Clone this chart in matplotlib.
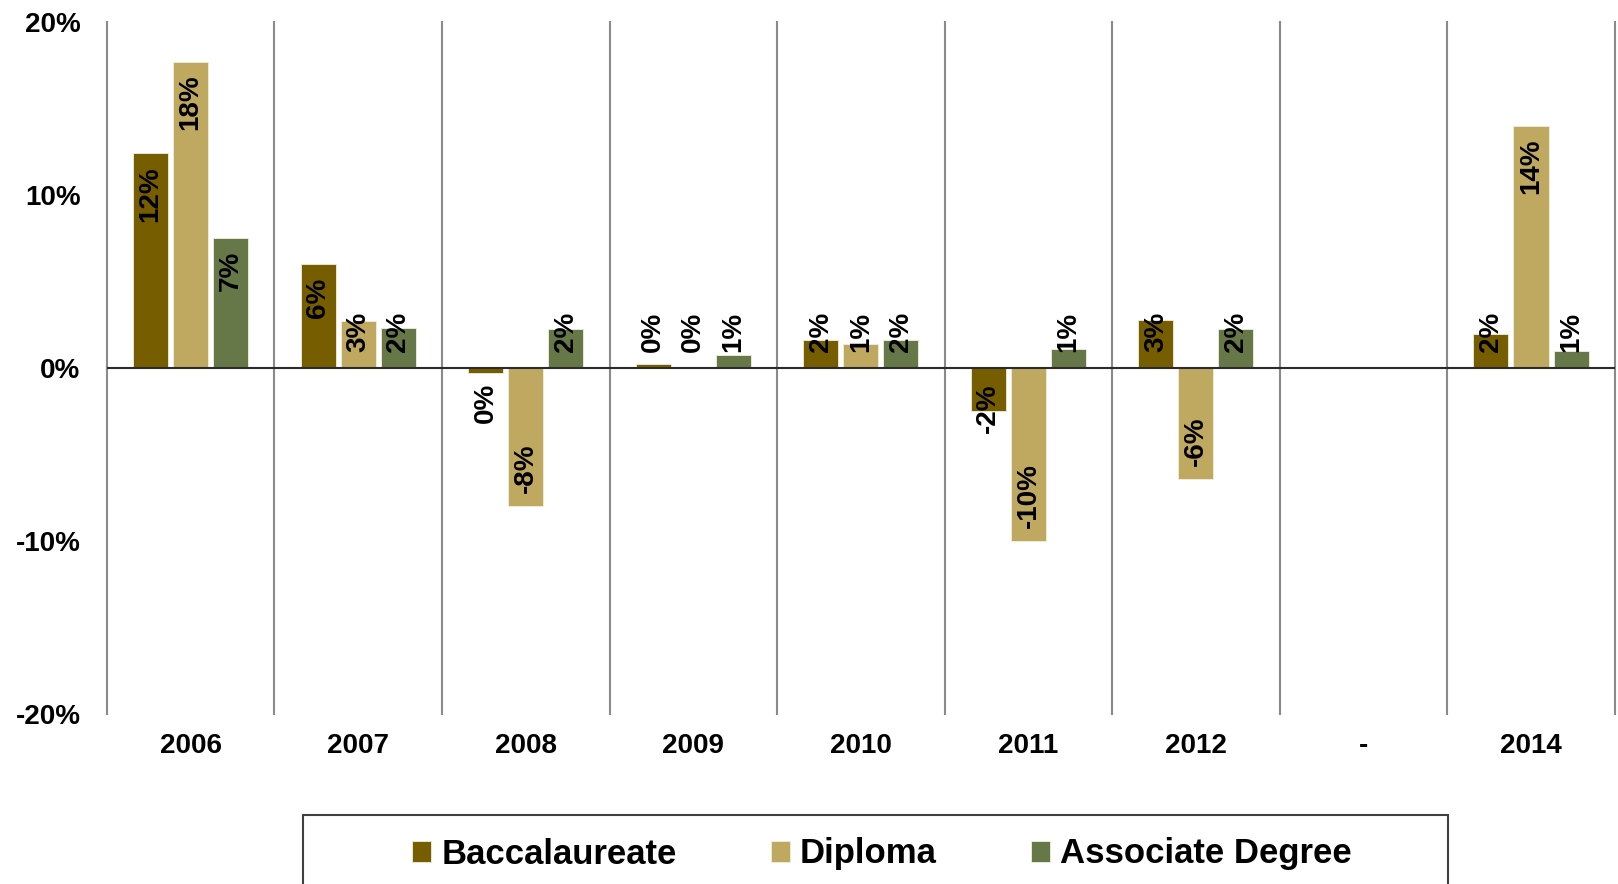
import numpy as np
import matplotlib
matplotlib.use("Agg")
import matplotlib.pyplot as plt
from matplotlib.patches import Rectangle
from matplotlib.textpath import TextPath
from matplotlib.font_manager import FontProperties

plt.rcParams['font.family'] = ['Liberation Sans', 'DejaVu Sans']
plt.rcParams['font.weight'] = 'bold'

# du lieu doc tu hinh
years = ['2006', '2007', '2008', '2009', '2010', '2011', '2012', '-', '2014']
bacc = [12.4, 6.0, -0.3, 0.25, 1.6, -2.5, 2.8, np.nan, 1.95]
diploma = [17.7, 2.7, -8.0, 0.0, 1.4, -10.0, -6.4, np.nan, 14.0]
assoc = [7.5, 2.3, 2.25, 0.73, 1.6, 1.1, 2.25, np.nan, 0.98]
labels_bacc = ['12%', '6%', '0%', '0%', '2%', '-2%', '3%', '', '2%']
labels_dip = ['18%', '3%', '-8%', '0%', '1%', '-10%', '-6%', '', '14%']
labels_assoc = ['7%', '2%', '2%', '1%', '2%', '1%', '2%', '', '1%']

series = ['Baccalaureate', 'Diploma', 'Associate Degree']
colors = ['#765E00', '#BFA960', '#667748']

DPI = 100
fig = plt.figure(figsize=(16.18, 8.84), dpi=DPI)
ax = fig.add_axes([0.0661, 0.1923, 0.9319, 0.7828])
ax.set_xlim(0, 9)
ax.set_ylim(-20, 20)

x = np.arange(len(years)) + 0.5
step = 0.239
width = 0.209
px_per_unit = 0.7828 * 8.84 * DPI / 40.0   # pixel cho 1%
pt = 72.0 / DPI
label_font = 20
prop = FontProperties(family='Liberation Sans', weight='bold')

def text_len_px(s):
    # do dai chu (pixel) khi xoay 90 do
    return TextPath((0, 0), s, size=label_font, prop=prop).get_extents().width / pt

handles = []
for k, (vals, labs) in enumerate([(bacc, labels_bacc), (diploma, labels_dip), (assoc, labels_assoc)]):
    xs = x + (k - 1) * step
    b = ax.bar(xs, vals, width, color=colors[k], edgecolor='#f2eedf', linewidth=0.6,
               label=series[k], zorder=3)
    handles.append(b)
    for xi, v, s in zip(xs, vals, labs):
        if np.isnan(v) or s == '':
            continue
        H = abs(v) * px_per_unit
        L = text_len_px(s)
        if v >= 0:
            off = max(H - 15 - L, 16)
            ax.annotate(s, (xi, 0), xytext=(0, off * pt), textcoords='offset points',
                        rotation=90, ha='center', va='bottom', fontsize=label_font,
                        fontweight='bold', zorder=4)
        else:
            off = max(H - 15 - L, 15)
            ax.annotate(s, (xi, 0), xytext=(0, -off * pt), textcoords='offset points',
                        rotation=90, ha='center', va='top', fontsize=label_font,
                        fontweight='bold', zorder=4)

# duong ke doc giua cac nam
for i in range(len(years) + 1):
    ax.axvline(i, color='#8a8a8a', lw=1.5, zorder=1, clip_on=False)
ax.axhline(0, color='#2b2b2b', lw=1.5, zorder=3)

for sp in ax.spines.values():
    sp.set_visible(False)
ax.set_yticks([-20, -10, 0, 10, 20])
ax.set_yticklabels(['-20%', '-10%', '0%', '10%', '20%'])
ax.set_xticks(x)
ax.set_xticklabels(years)
ax.tick_params(axis='y', length=0, pad=19, labelsize=20)
ax.tick_params(axis='x', length=0, pad=14, labelsize=20)
for t in ax.get_xticklabels() + ax.get_yticklabels():
    t.set_fontweight('bold')

# khung chu thich
W, Hf = fig.get_size_inches() * DPI
fig.patches.append(Rectangle((303 / W, -0.05), (1448 - 303) / W, 0.05 + (884 - 815) / Hf,
                             transform=fig.transFigure, fill=False, edgecolor='#404040', lw=1.5))
fig.legend(handles=handles, loc='center', bbox_to_anchor=((303 + 1448) / 2 / W + 0.004, (884 - 854) / Hf),
           ncol=3, frameon=False, handlelength=0.55, handleheight=0.55,
           handletextpad=0.3, columnspacing=2.7, prop={'weight': 'bold', 'size': 25})

fig.savefig('out.png', dpi=DPI)
